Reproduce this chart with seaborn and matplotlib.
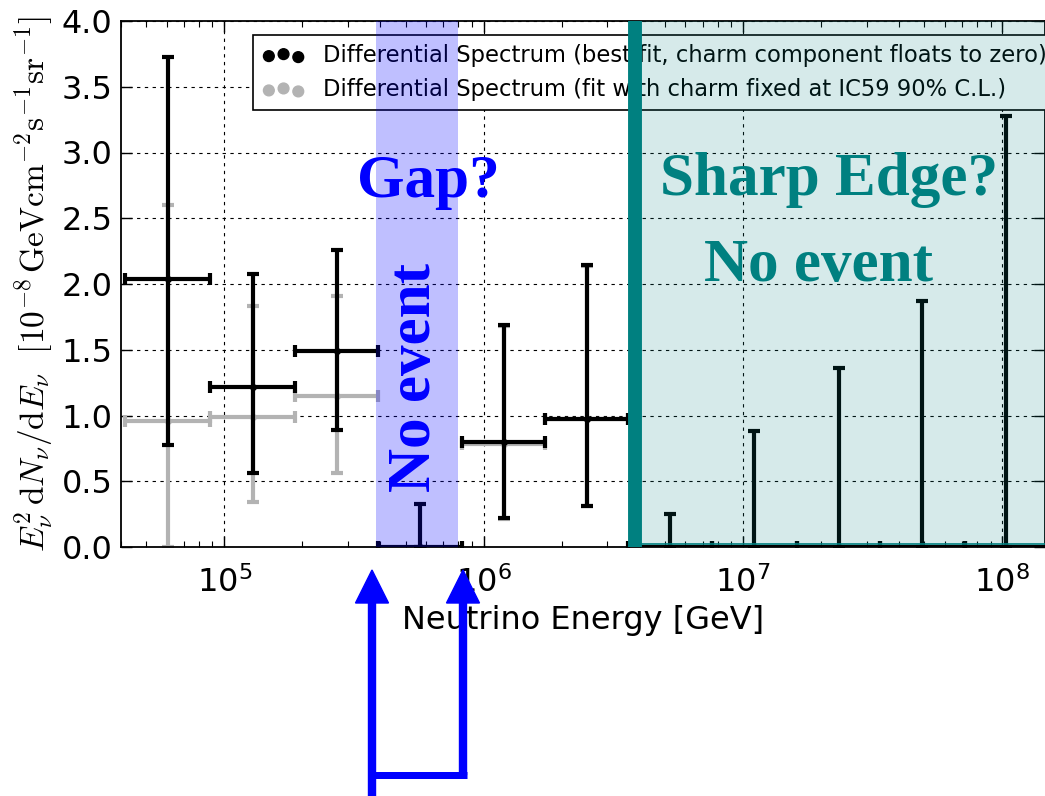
import numpy as np
import pandas as pd
import matplotlib
matplotlib.use("Agg")
import matplotlib.pyplot as plt
import seaborn as sns
from matplotlib.patches import FancyArrow
from matplotlib.lines import Line2D
from matplotlib.transforms import IdentityTransform, blended_transform_factory
from matplotlib.ticker import LogLocator, FixedLocator, FormatStrFormatter, NullFormatter

# ---------------- data ----------------
energy_center = [6.05e4, 1.288e5, 2.716e5, 5.69e5, 1.194e6, 2.495e6,
                 5.24e6, 1.10e7, 2.34e7, 4.90e7, 1.03e8]
bin_low = [4.155e4, 8.83e4, 1.879e5, 3.92e5, 8.26e5, 1.726e6,
           3.606e6, 7.60e6, 1.614e7, 3.373e7, 7.16e7]
bin_high = [8.83e4, 1.879e5, 3.92e5, 8.26e5, 1.726e6, 3.606e6,
            7.60e6, 1.614e7, 3.373e7, 7.16e7, 1.48e8]
best_fit = [2.04, 1.215, 1.493, 0.0, 0.796, 0.973, 0.0, 0.0, 0.0, 0.0, 0.0]
best_lo = [0.775, 0.56, 0.892, 0.0, 0.218, 0.31, 0.0, 0.0, 0.0, 0.0, 0.0]
best_hi = [3.73, 2.076, 2.26, 0.327, 1.69, 2.147, 0.25, 0.88, 1.36, 1.87, 3.28]

charm_center = [6.05e4, 1.288e5, 2.716e5, 1.194e6, 2.495e6]
charm_low = [4.155e4, 8.83e4, 1.879e5, 8.26e5, 1.726e6]
charm_high = [8.83e4, 1.879e5, 3.92e5, 1.726e6, 3.606e6]
charm_fit = [0.96, 0.99, 1.15, 0.78, 0.97]
charm_lo = [0.0, 0.34, 0.56, 0.21, 0.31]
charm_hi = [2.60, 1.835, 1.91, 1.68, 2.14]

gap_range = [3.85e5, 7.98e5]
edge_energy = 3.84e6
x_limits = [4.0e4, 1.46e8]
y_limits = [0.0, 4.0]

label_best = "Differential Spectrum (best fit, charm component floats to zero)"
label_charm = "Differential Spectrum (fit with charm fixed at IC59 90% C.L.)"

# ---------------- style ----------------
sns.set_theme(style="ticks")
plt.rcParams.update({
    "font.family": ["DejaVu Sans"],
    "text.color": "black",
    "axes.labelcolor": "black",
    "axes.linewidth": 1.3,
    "xtick.direction": "in", "ytick.direction": "in",
    "xtick.top": True, "ytick.right": True,
    "xtick.major.size": 8, "ytick.major.size": 8,
    "xtick.minor.size": 4, "ytick.minor.size": 4,
    "xtick.major.width": 1.0, "ytick.major.width": 1.0,
    "xtick.minor.width": 0.8,
    "xtick.color": "black", "ytick.color": "black",
    "xtick.labelcolor": "black", "ytick.labelcolor": "black",
    "axes.edgecolor": "black",
})

W, H = 1045, 796
fig = plt.figure(figsize=(W / 100, H / 100), dpi=100)
ax = fig.add_axes([121 / W, (H - 547) / H, 1 - 121 / W, (547 - 21) / H])

df_best = pd.DataFrame({"E": energy_center, "y": best_fit})
df_charm = pd.DataFrame({"E": charm_center, "y": charm_fit})

gray = "#b3b3b3"
cm = np.array(charm_center)
cf = np.array(charm_fit)
ax.errorbar(cm, cf,
            xerr=[cm - np.array(charm_low), np.array(charm_high) - cm],
            yerr=[cf - np.array(charm_lo), np.array(charm_hi) - cf],
            fmt="none", ecolor=gray, elinewidth=3.0, capsize=4, capthick=3.0,
            zorder=2)
sns.scatterplot(data=df_charm, x="E", y="y", color=gray, s=25, linewidth=0,
                ax=ax, legend=False, zorder=2.1)

bm = np.array(energy_center)
bf = np.array(best_fit)
ax.errorbar(bm, bf,
            xerr=[bm - np.array(bin_low), np.array(bin_high) - bm],
            yerr=[bf - np.array(best_lo), np.array(best_hi) - bf],
            fmt="none", ecolor="black", elinewidth=3.0, capsize=4, capthick=3.0,
            zorder=3)
sns.scatterplot(data=df_best, x="E", y="y", color="black", s=25, linewidth=0,
                ax=ax, legend=False, zorder=3.1)

ax.set_xscale("log")
ax.set_xlim(*x_limits)
ax.set_ylim(*y_limits)
ax.yaxis.set_major_locator(FixedLocator(np.arange(0, 4.01, 0.5)))
ax.yaxis.set_major_formatter(FormatStrFormatter("%.1f"))
ax.xaxis.set_major_locator(LogLocator(base=10, numticks=12))
ax.xaxis.set_minor_locator(LogLocator(base=10, subs=np.arange(2, 10), numticks=12))
ax.xaxis.set_minor_formatter(NullFormatter())
ax.tick_params(axis="x", which="major", labelsize=23, pad=14)
ax.tick_params(axis="y", which="major", labelsize=23, pad=6)
ax.grid(True, which="major", color="black", linestyle=(0, (3, 4)), linewidth=0.8)

ax.set_xlabel("Neutrino Energy [GeV]", fontsize=23, labelpad=4)
ax.set_ylabel(r"$E_\nu^2\,\mathrm{d}N_\nu/\mathrm{d}E_\nu\ \ [10^{-8}\,\mathrm{GeV cm^{-2}s^{-1}sr^{-1}}]$",
              fontsize=24, math_fontfamily="cm", labelpad=4)

# legend
h1 = ax.scatter([], [], color="black", s=60)
h2 = ax.scatter([], [], color=gray, s=60)
leg = ax.legend([h1, h2], [label_best, label_charm], loc="upper left",
                bbox_to_anchor=(253 / W, 1 - 35 / H), bbox_transform=fig.transFigure,
                scatterpoints=3, fontsize=16.3, frameon=True, fancybox=False,
                framealpha=1.0, edgecolor="black", borderpad=0.4,
                labelspacing=0.5, handletextpad=0.8, handlelength=1.9,
                borderaxespad=0)
leg.get_frame().set_linewidth(1.2)
leg.set_zorder(5)
for t in leg.get_texts():
    t.set_color("black")

# highlighted regions (drawn over the data and legend)
ax.axvspan(gap_range[0], gap_range[1], color=(0, 0, 1), alpha=0.25, lw=0, zorder=6)
ax.axvspan(edge_energy, x_limits[1], ymin=0.006, color=(0, 0.5, 0.5), alpha=0.16,
           lw=0, zorder=6)
ax.axvline(edge_energy, color="#008080", lw=10, zorder=7, solid_capstyle="butt")
trans = blended_transform_factory(ax.transData, ax.transAxes)
ax.plot([edge_energy, x_limits[1]], [0.006, 0.006], color="#008080", lw=1.2,
        transform=trans, zorder=7, clip_on=False)

# annotation texts
blue = "#0000ff"
teal = "#008080"
fig.text(428 / W, 1 - 182 / H, "Gap?", color=blue, fontsize=44, fontweight="bold",
         family="Liberation Serif", ha="center", va="center", zorder=10)
fig.text(415 / W, 1 - 378 / H, "No event", color=blue, fontsize=44, fontweight="bold",
         family="Liberation Serif", ha="center", va="center", rotation=90, zorder=10)
fig.text(829 / W, 1 - 180 / H, "Sharp Edge?", color=teal, fontsize=44, fontweight="bold",
         family="Liberation Serif", ha="center", va="center", zorder=10)
fig.text(818 / W, 1 - 266 / H, "No event", color=teal, fontsize=44, fontweight="bold",
         family="Liberation Serif", ha="center", va="center", zorder=10)

# arrows below the axis (pixel coordinates, origin bottom-left)
idt = IdentityTransform()
a1 = FancyArrow(372, 0, 0, 226, width=7, head_width=33, head_length=33,
                length_includes_head=True, color=blue, transform=idt)
a2 = FancyArrow(463, 21, 0, 205, width=7, head_width=33, head_length=33,
                length_includes_head=True, color=blue, transform=idt)
fig.patches.extend([a1, a2])
fig.add_artist(Line2D([372, 466.5], [21, 21], color=blue, linewidth=7 * 0.72,
                      transform=idt, solid_capstyle="butt"))

fig.savefig("out.png", dpi=100)
